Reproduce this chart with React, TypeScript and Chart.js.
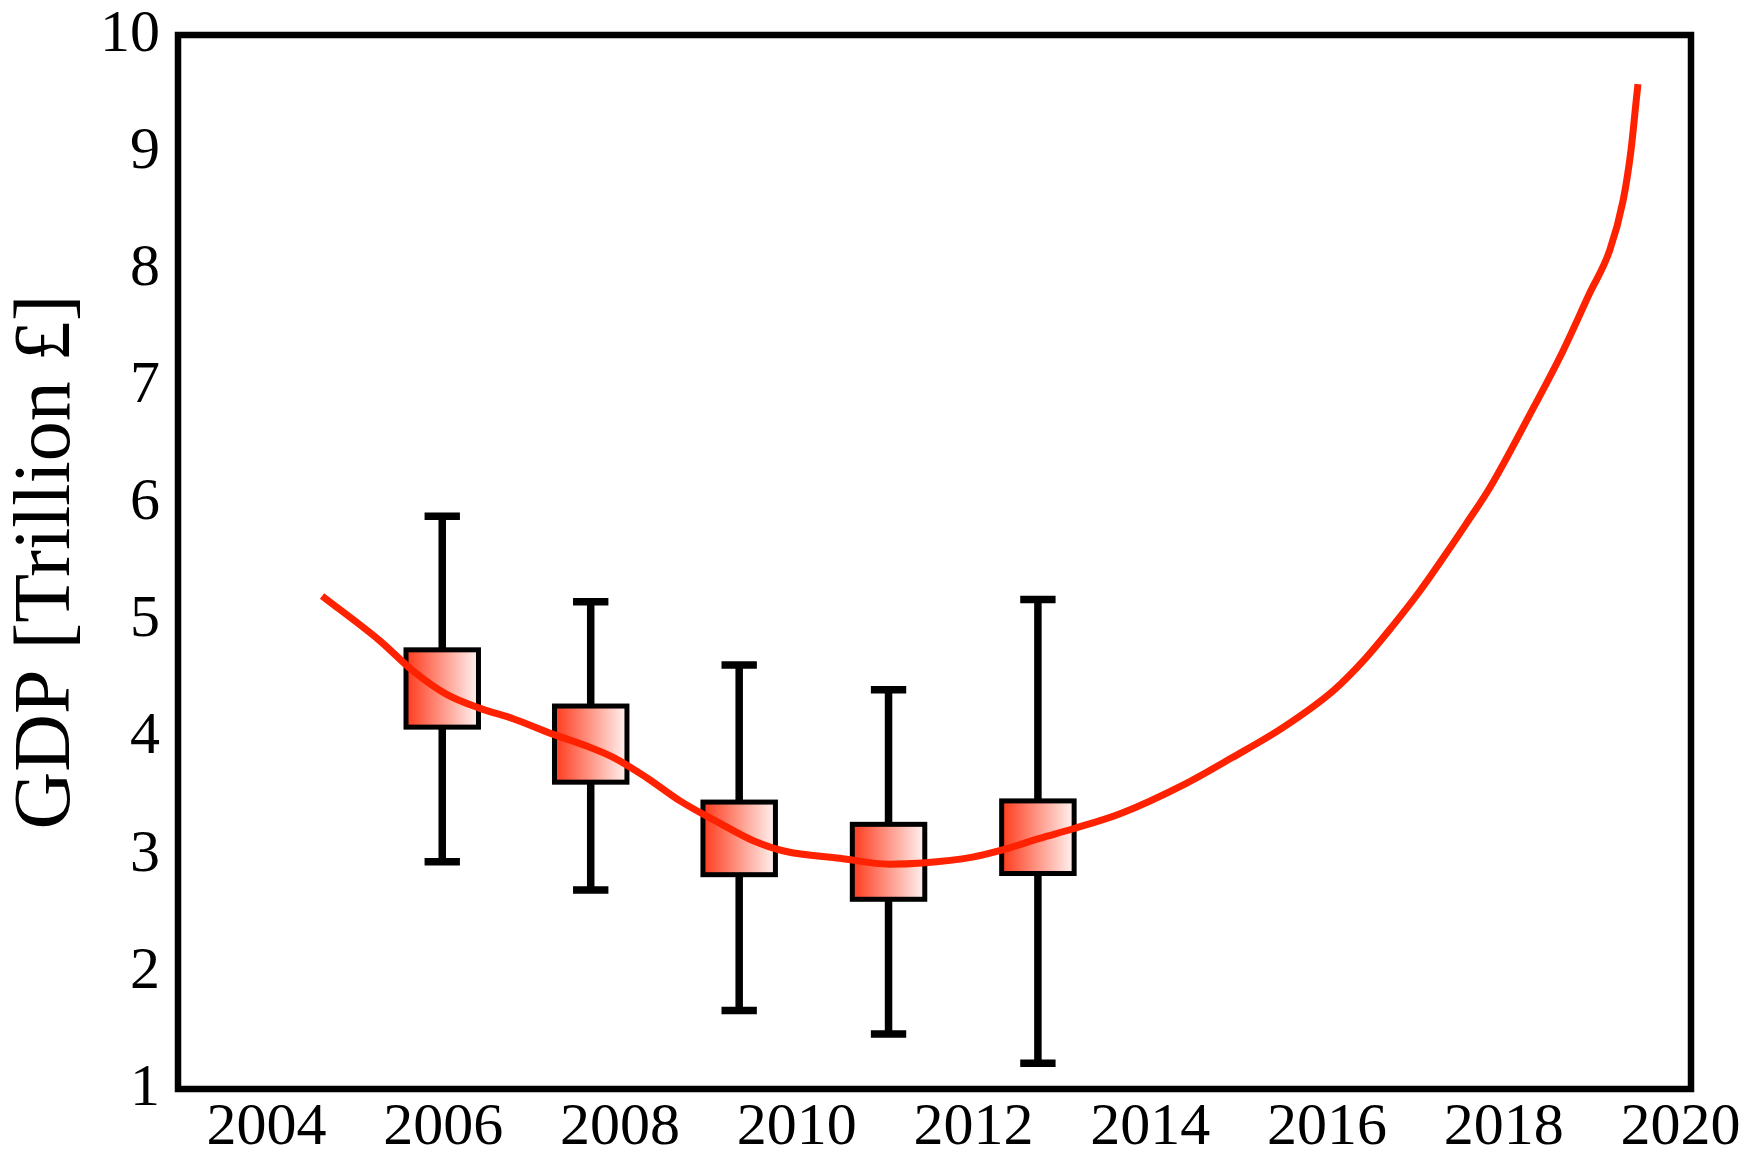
import React, { useEffect, useRef } from "react";
import { Chart, registerables } from "chart.js";

Chart.register(...registerables);

// ---- data ----
const X_TICKS = [2004, 2006, 2008, 2010, 2012, 2014, 2016, 2018, 2020];
const Y_TICKS = [1, 2, 3, 4, 5, 6, 7, 8, 9, 10];

const BOX_YEARS = [2005.99, 2007.67, 2009.35, 2011.04, 2012.73];
const BOX_LOW = [4.09, 3.62, 2.83, 2.62, 2.84];
const BOX_HIGH = [4.75, 4.27, 3.45, 3.26, 3.46];
const WHISKER_LOW = [2.94, 2.7, 1.67, 1.47, 1.22];
const WHISKER_HIGH = [5.89, 5.16, 4.62, 4.41, 5.18];

const CURVE_YEARS = [
  2004.63, 2005.28, 2005.66, 2006.04, 2006.42, 2006.8, 2007.24, 2007.62, 2007.93,
  2008.3, 2008.68, 2009.13, 2009.51, 2009.87, 2010.49, 2011.05, 2011.42, 2011.99,
  2012.37, 2012.75, 2013.12, 2013.66, 2014.41, 2014.93, 2015.51, 2016.07, 2016.44,
  2016.74, 2017.05, 2017.32, 2017.58, 2017.84, 2018.29, 2018.67, 2018.97, 2019.2,
  2019.35, 2019.44, 2019.5, 2019.52,
];
const CURVE_GDP = [
  5.21, 4.83, 4.57, 4.37, 4.25, 4.16, 4.03, 3.93, 3.83,
  3.66, 3.46, 3.27, 3.12, 3.03, 2.97, 2.92, 2.93, 2.98,
  3.05, 3.14, 3.22, 3.35, 3.61, 3.83, 4.09, 4.4, 4.68,
  4.95, 5.25, 5.54, 5.83, 6.13, 6.75, 7.3, 7.79, 8.16,
  8.58, 9.01, 9.44, 9.58,
];

const X_MIN = 2003;
const X_MAX = 2020.12;
const Y_MIN = 1;
const Y_MAX = 10;

// ---- style ----
const BOX_HALF_WIDTH = 0.41; // in years
const CAP_HALF_WIDTH = 0.2; // in years
const FONT = "'Liberation Serif', 'Times New Roman', serif";
const RED = "#ff2200";

const boxPlugin = {
  id: "boxWhiskers",
  beforeDatasetsDraw(chart: any) {
    const { ctx, scales } = chart;
    const x = scales.x;
    const y = scales.y;
    ctx.save();
    BOX_YEARS.forEach((yr, i) => {
      const cx = x.getPixelForValue(yr);
      const yTop = y.getPixelForValue(WHISKER_HIGH[i]);
      const yBot = y.getPixelForValue(WHISKER_LOW[i]);
      ctx.strokeStyle = "#000";
      ctx.lineCap = "butt";
      ctx.lineWidth = 7.5;
      ctx.beginPath();
      ctx.moveTo(cx, yTop);
      ctx.lineTo(cx, yBot);
      ctx.stroke();
      const cl = x.getPixelForValue(yr - CAP_HALF_WIDTH);
      const cr = x.getPixelForValue(yr + CAP_HALF_WIDTH);
      ctx.lineWidth = 7.5;
      ctx.beginPath();
      ctx.moveTo(cl, yTop);
      ctx.lineTo(cr, yTop);
      ctx.moveTo(cl, yBot);
      ctx.lineTo(cr, yBot);
      ctx.stroke();

      const l = x.getPixelForValue(yr - BOX_HALF_WIDTH);
      const r = x.getPixelForValue(yr + BOX_HALF_WIDTH);
      const t = y.getPixelForValue(BOX_HIGH[i]);
      const b = y.getPixelForValue(BOX_LOW[i]);
      const g = ctx.createLinearGradient(l, 0, r, 0);
      g.addColorStop(0, "#ff3a1c");
      g.addColorStop(1, "#fff4f2");
      ctx.fillStyle = g;
      ctx.fillRect(l, t, r - l, b - t);
      ctx.lineWidth = 5;
      ctx.lineJoin = "miter";
      ctx.strokeRect(l, t, r - l, b - t);
    });
    ctx.restore();
  },
  afterDraw(chart: any) {
    const { ctx, chartArea } = chart;
    ctx.save();
    ctx.strokeStyle = "#000";
    ctx.lineWidth = 6.5;
    ctx.lineJoin = "miter";
    ctx.strokeRect(
      chartArea.left,
      chartArea.top,
      chartArea.right - chartArea.left,
      chartArea.bottom - chartArea.top
    );
    ctx.restore();
  },
};

export default function App() {
  const canvasRef = useRef<HTMLCanvasElement | null>(null);

  useEffect(() => {
    const canvas = canvasRef.current;
    if (!canvas) return;
    const chart = new Chart(canvas, {
      type: "line",
      data: {
        datasets: [
          {
            data: CURVE_YEARS.map((yr, i) => ({ x: yr, y: CURVE_GDP[i] })),
            borderColor: RED,
            borderWidth: 7,
            pointRadius: 0,
            fill: false,
            cubicInterpolationMode: "monotone",
            borderCapStyle: "butt",
          },
        ],
      },
      options: {
        animation: false,
        responsive: false,
        devicePixelRatio: 1,
        layout: { padding: { top: 35, right: 69, bottom: 0, left: 0 } },
        plugins: {
          legend: { display: false },
          tooltip: { enabled: false },
        },
        scales: {
          x: {
            type: "linear",
            min: X_MIN,
            max: X_MAX,
            grid: { display: false, drawTicks: false },
            border: { display: false },
            afterBuildTicks: (scale: any) => {
              scale.ticks = X_TICKS.map((v) => ({ value: v }));
            },
            afterFit: (scale: any) => {
              scale.height = 69;
              scale.paddingLeft = 0;
              scale.paddingRight = 0;
            },
            ticks: {
              autoSkip: false,
              maxRotation: 0,
              padding: 3,
              color: "#000",
              font: { family: FONT, size: 60 },
              callback: (v: any) => String(v),
            },
          },
          y: {
            type: "linear",
            min: Y_MIN,
            max: Y_MAX,
            grid: { display: false, drawTicks: false },
            border: { display: false },
            afterBuildTicks: (scale: any) => {
              scale.ticks = Y_TICKS.map((v) => ({ value: v }));
            },
            afterFit: (scale: any) => {
              scale.width = 178;
              scale.paddingTop = 0;
              scale.paddingBottom = 0;
            },
            title: {
              display: true,
              text: "GDP [Trillion £]",
              color: "#000",
              font: { family: FONT, size: 80 },
              padding: 0,
            },
            ticks: {
              autoSkip: false,
              padding: 18,
              color: "#000",
              font: { family: FONT, size: 60 },
              callback: (v: any) => String(v),
            },
          },
        },
      },
      plugins: [boxPlugin],
    });
    return () => chart.destroy();
  }, []);

  return (
    <div style={{ position: "absolute", left: 0, top: 0, width: 1760, height: 1158, background: "#fff" }}>
      <canvas ref={canvasRef} width={1760} height={1158} style={{ width: 1760, height: 1158, display: "block" }} />
    </div>
  );
}
